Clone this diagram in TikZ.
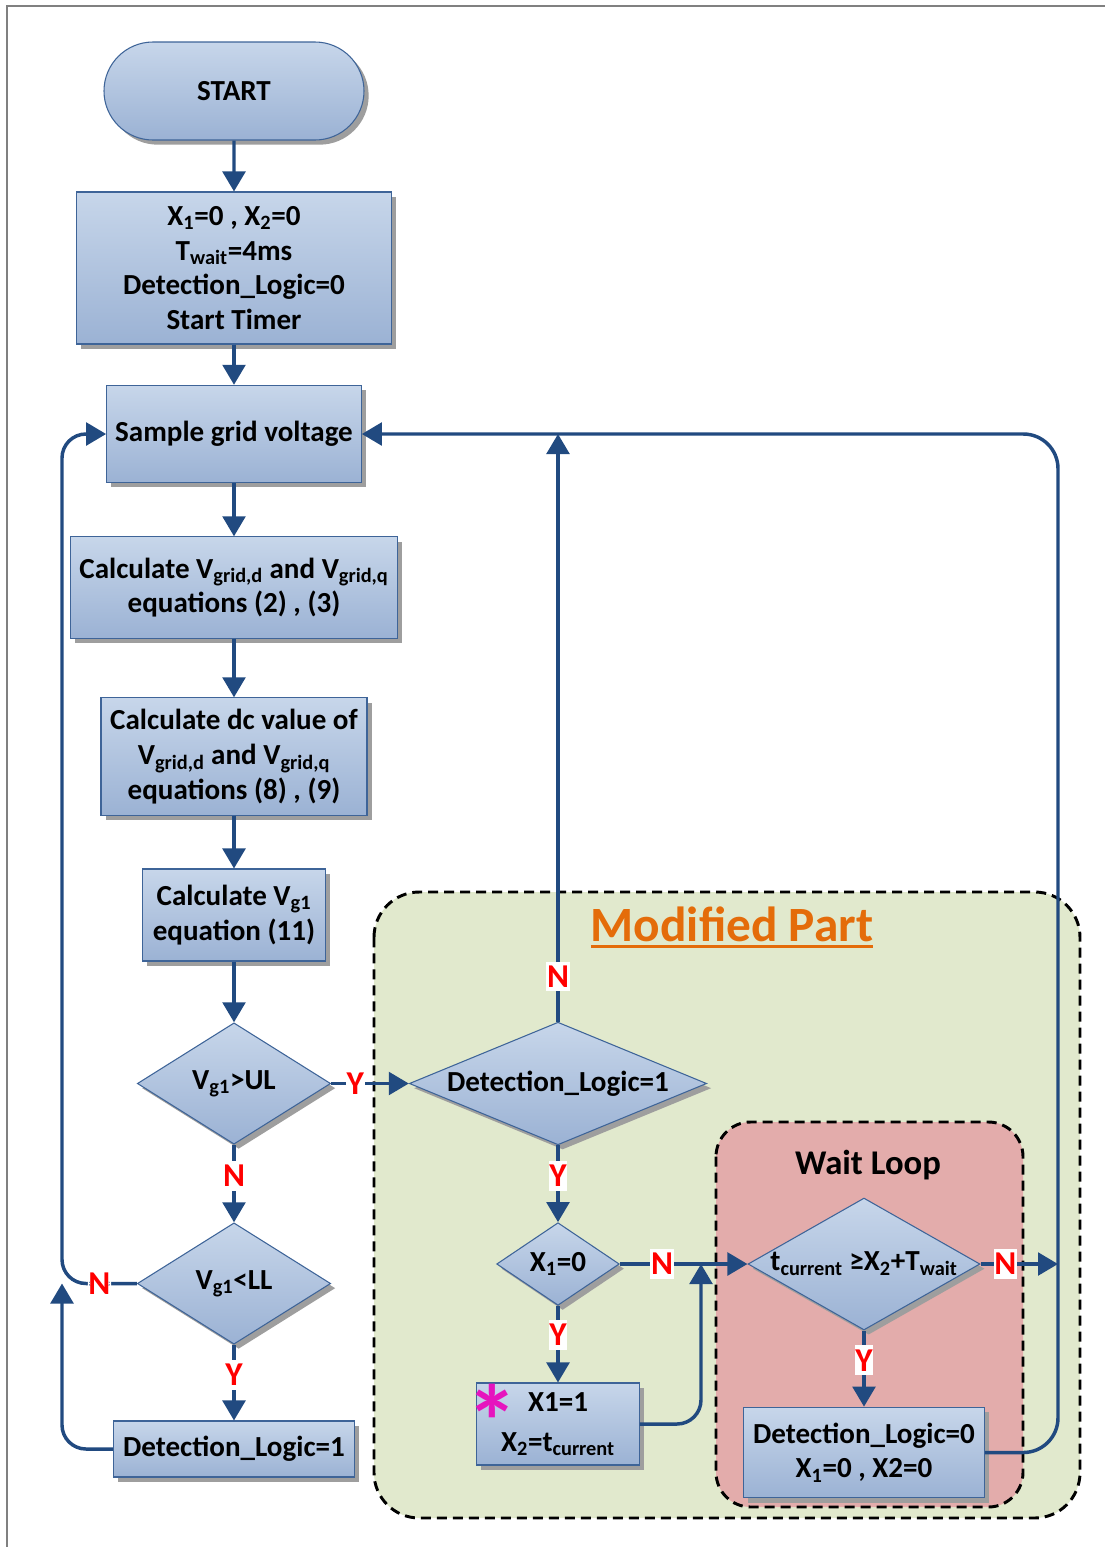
\documentclass[tikz,border=0pt]{standalone}
\usepackage{fontspec}
\setmainfont{Carlito}
\usepackage{tikz}
\usetikzlibrary{arrows.meta}
\usetikzlibrary{shapes.geometric}
\usetikzlibrary{shapes.misc}
\usetikzlibrary{shadows}

\definecolor{boxtop}{RGB}{199,214,234}
\definecolor{boxbot}{RGB}{155,178,212}
\definecolor{boxline}{RGB}{62,100,152}
\definecolor{flowblue}{RGB}{33,74,128}
\definecolor{modgreen}{RGB}{225,233,205}
\definecolor{waitpink}{RGB}{227,172,171}
\definecolor{modorange}{RGB}{228,108,10}
\definecolor{framegray}{RGB}{128,128,128}
\definecolor{starpink}{RGB}{230,20,190}

\newcommand{\dectext}[1]{\makebox[0pt]{#1}}
\newcommand{\ulined}[1]{\setbox0\hbox{#1}\rlap{\rule[-5pt]{\wd0}{2.2pt}}\box0}

\begin{document}
\begin{tikzpicture}[x=0.75pt,y=0.75pt,yscale=-1,xscale=1,
  boxfont/.style={font=\fontsize{21.8}{26}\selectfont\bfseries},
  boxshadow/.style={drop shadow={shadow xshift=3.5pt,shadow yshift=-3.5pt,fill=black!38,opacity=1}},
  procbox/.style={rectangle,draw=boxline,line width=0.8pt,top color=boxtop,bottom color=boxbot,boxshadow,boxfont,align=center,inner sep=0pt},
  termbox/.style={procbox,rounded rectangle},
  decbox/.style={diamond,draw=boxline,line width=0.8pt,top color=boxtop,bottom color=boxbot,boxshadow,boxfont,inner sep=0pt,aspect=1},
  flow/.style={draw=flowblue,line width=2.6pt,-{Triangle[width=17pt,length=15pt]}},
  yn/.style={fill=white,text=red,font=\fontsize{25}{28}\selectfont\bfseries,inner xsep=0.5pt,inner ysep=3pt},
  region/.style={draw=black,line width=2.2pt,dash pattern=on 7.5pt off 4.5pt}]
\useasboundingbox (0,0) rectangle (1104,1547);

%Shape: Frame
\draw [framegray,line width=1.5pt] (7,1600) -- (7,6) -- (1150,6) ;
%Shape: Modified Part region
\draw [region,fill=modgreen,rounded corners=34pt] (374,892) rectangle (1080,1518) ;
%Shape: Wait Loop region
\draw [region,fill=waitpink,rounded corners=26pt] (716,1122) rectangle (1023,1507) ;

\coordinate (loopL) at (62,0);
\coordinate (loopR) at (1058,0);
\coordinate (merge) at (701,1264);

% Left column
\node [termbox,minimum width=195pt,minimum height=73.5pt] (start) at (234,91) {START};
\node [procbox,minimum width=236pt,minimum height=114pt] (init) at (234,268) {X\textsubscript{1}=0 , X\textsubscript{2}=0\\T\textsubscript{wait}=4ms\\Detection\_Logic=0\\Start Timer};
\node [procbox,minimum width=191pt,minimum height=73pt] (sample) at (234,434) {Sample grid voltage};
\node [procbox,minimum width=245pt,minimum height=76pt] (calcdq) at (234,587.5) {Calculate V\textsubscript{grid,d} and V\textsubscript{grid,q}\\equations (2) , (3)};
\node [procbox,minimum width=199.5pt,minimum height=88pt] (calcdc) at (234,756.5) {Calculate dc value of\\V\textsubscript{grid,d} and V\textsubscript{grid,q}\\equations (8) , (9)};
\node [procbox,minimum width=137pt,minimum height=69pt] (calcvg) at (234,915) {Calculate V\textsubscript{g1}\\equation (11)};
\node [decbox,minimum width=145pt,minimum height=91pt] (upper) at (234,1083.5) {\dectext{V\textsubscript{g1}>UL}};
\node [decbox,minimum width=145pt,minimum height=91pt] (lower) at (234,1283.5) {\dectext{V\textsubscript{g1}<LL}};
\node [procbox,minimum width=181pt,minimum height=42pt] (setlogic) at (234,1449) {Detection\_Logic=1};

% Modified part
\node [text=modorange,font=\fontsize{37}{40}\selectfont\bfseries] (modtitle) at (732,927) {\ulined{Modified Part}};
\node [decbox,minimum width=223pt,minimum height=92pt] (checklogic) at (558,1083.5) {\dectext{Detection\_Logic=1}};
\node [decbox,minimum width=92pt,minimum height=62pt] (checkx) at (558,1264) {\dectext{X\textsubscript{1}=0}};
\node [procbox,minimum width=122pt,minimum height=61.5pt] (setx) at (558,1424) {X1=1\\[4pt]X\textsubscript{2}=t\textsubscript{current}};
\node [text=starpink,font=\fontsize{78}{78}\selectfont\bfseries,inner sep=0pt,anchor=south] (star) at (492,1414) {\raisebox{-0.43em}[0.25em][0pt]{*}};

% Wait loop
\node [font=\fontsize{26}{30}\selectfont\bfseries] (waittitle) at (868,1165) {Wait Loop};
\node [decbox,minimum width=174pt,minimum height=99pt] (timer) at (864,1264) {\dectext{t\textsubscript{current} ≥X\textsubscript{2}+T\textsubscript{wait}}};
\node [procbox,minimum width=181pt,minimum height=68pt] (resetlogic) at (864,1452.5) {Detection\_Logic=0\\X\textsubscript{1}=0 , X2=0};

% Connectors
\draw [flow] (start) -- (init);
\draw [flow] (init) -- (sample);
\draw [flow] (sample) -- (calcdq);
\draw [flow] (calcdq) -- (calcdc);
\draw [flow] (calcdc) -- (calcvg);
\draw [flow] (calcvg) -- (upper);
\draw [flow] (upper) -- node [yn,pos=0.4] (nupper) {N} (lower);
\draw [flow] (lower) -- node [yn,pos=0.4] (ylower) {Y} (setlogic);
\draw [flow,rounded corners=18pt] (lower.west) -- node [yn] (nlower) {N} (lower.west -| loopL) |- (sample.west);
\draw [flow,rounded corners=18pt] (setlogic.west) -| (lower.west -| loopL);
\draw [flow] (upper.east) -- node [yn,pos=0.31] (yupper) {Y} (checklogic.west);
\draw [flow] (checklogic.north) -- node [yn,pos=0.077] (nlogic) {N} (checklogic.north |- sample.east);
\draw [flow] (checklogic) -- node [yn,pos=0.4] (ylogic) {Y} (checkx);
\draw [flow] (checkx) -- node [yn,pos=0.38] (ycheckx) {Y} (setx);
\draw [flow] (checkx.east) -- node [yn,pos=0.33] (ncheckx) {N} (timer.west);
\draw [flow,rounded corners=18pt] (setx.east) -| (merge);
\draw [flow] (timer) -- node [yn,pos=0.39] (ytimer) {Y} (resetlogic);
\draw [flow] (timer.east) -- node [yn,pos=0.32] (ntimer) {N} (timer.east -| loopR);
\draw [flow,rounded corners=26pt] (resetlogic.east) -| (sample.east -| loopR) -- (sample.east);

\end{tikzpicture}
\end{document}
